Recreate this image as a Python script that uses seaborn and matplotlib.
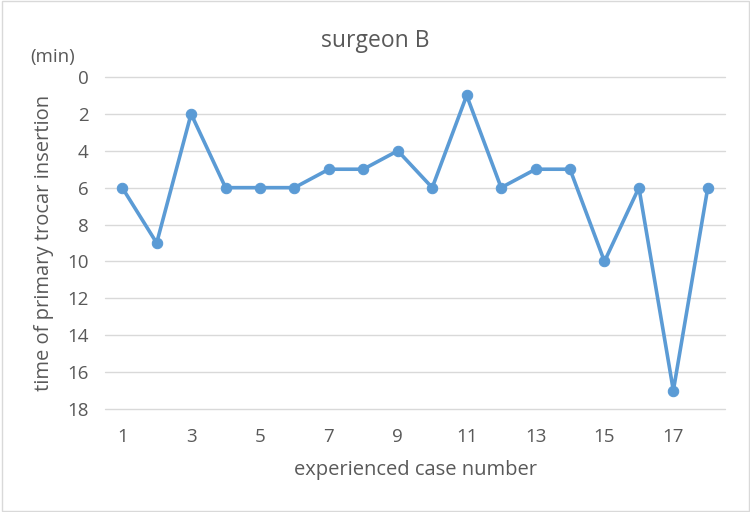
import matplotlib
matplotlib.use("Agg")
import matplotlib.pyplot as plt
import seaborn as sns
import pandas as pd

# case numbers and insertion times (min)
case_numbers = list(range(1, 19))
insertion_time = [6, 9, 2, 6, 6, 6, 5, 5, 4, 6, 1, 6, 5, 5, 10, 6, 17, 6]
x_ticks = [1, 3, 5, 7, 9, 11, 13, 15, 17]
y_ticks = [0, 2, 4, 6, 8, 10, 12, 14, 16, 18]

df = pd.DataFrame({"case": case_numbers, "time": insertion_time})

sns.set_style("white")
plt.rcParams['font.family'] = ['Open Sans', 'DejaVu Sans']
text_color = "#595959"

fig = plt.figure(figsize=(7.5, 5.12), dpi=100)
ax = fig.add_axes([0.14, 0.2012, 0.8267, 0.6484])

# horizontal gridlines (drawn unclipped so the 0 and 18 lines show)
for yv in y_ticks:
    ax.axhline(yv, color="#D9D9D9", linewidth=1, clip_on=False, zorder=0)

sns.lineplot(data=df, x="case", y="time", ax=ax, color="#5B9BD5",
             linewidth=2.6, marker="o", markersize=7.5,
             markeredgecolor="#5B9BD5", markerfacecolor="#5B9BD5")

ax.set_xlim(0.5, 18.5)
ax.set_ylim(18, 0)
ax.set_xticks(x_ticks)
ax.set_yticks(y_ticks)
for side in ["top", "left", "right", "bottom"]:
    ax.spines[side].set_visible(False)
ax.tick_params(axis="both", length=0, labelsize=13.5, colors=text_color)
ax.tick_params(axis="y", pad=12)
ax.tick_params(axis="x", pad=14)

ax.set_xlabel("experienced case number", fontsize=14.5, color=text_color, labelpad=10)
ax.set_ylabel("time of primary trocar insertion", fontsize=14.5, color=text_color, labelpad=9)
fig.text(0.5, 0.92, "surgeon B", ha="center", va="center", fontsize=16.5, color=text_color)
fig.text(0.04, 0.888, "(min)", ha="left", va="center", fontsize=13.5, color=text_color)

# light border around the chart
fig.patches.append(plt.Rectangle((0.002, 0.002), 0.996, 0.996, transform=fig.transFigure,
                                 fill=False, edgecolor="#D9D9D9", linewidth=1))

fig.savefig("out.png", dpi=100)
